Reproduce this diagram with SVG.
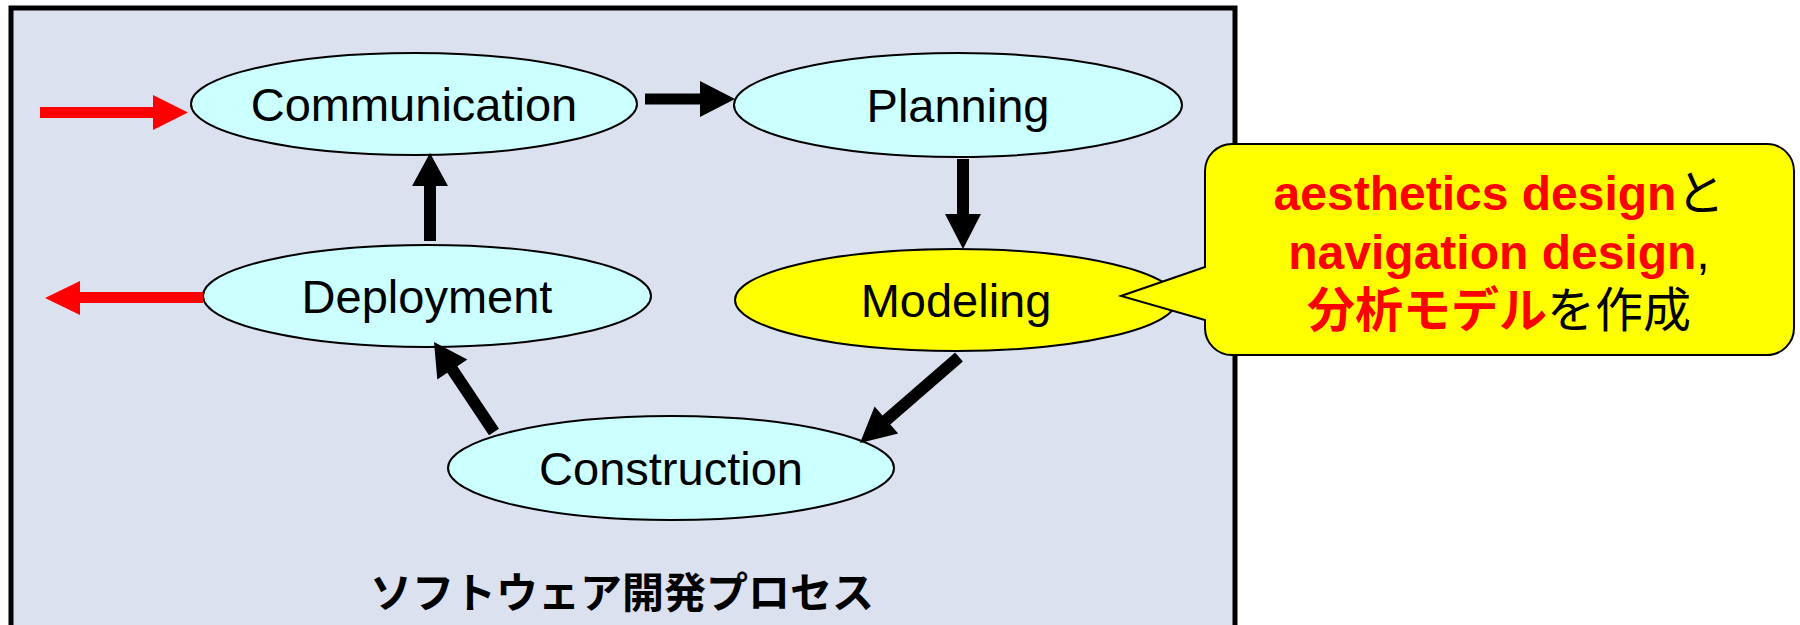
<svg xmlns="http://www.w3.org/2000/svg" width="1800" height="625" viewBox="0 0 1800 625">
<style>
.frame{fill:#dce1ef;stroke:#000;stroke-width:5}
.node{fill:#ccffff;stroke:#000;stroke-width:2}
.hl{fill:#ffff00}
.lbl{font-family:"Liberation Sans","Noto Sans CJK JP",sans-serif;font-size:47px;fill:#000;text-anchor:middle}
.arrow{fill:#000}
.red{fill:#ff0000}
.callout{fill:#ffff00;stroke:#000;stroke-width:2}
.ct{font-family:"Liberation Sans","Noto Sans CJK JP",sans-serif;font-size:48px;text-anchor:middle;fill:#000}
.r{fill:#ff0000;font-weight:bold}
.title{font-family:"Noto Sans CJK JP","Liberation Sans",sans-serif;font-size:42px;font-weight:bold;text-anchor:middle;fill:#000}
</style>
<rect class="frame" x="11" y="8" width="1224" height="650"/>
<text class="title" x="622" y="608">ソフトウェア開発プロセス</text>
<g id="communication"><ellipse class="node" cx="414" cy="104" rx="223" ry="51"/><text class="lbl" x="414" y="121">Communication</text></g>
<g id="planning"><ellipse class="node" cx="958" cy="105" rx="224" ry="52"/><text class="lbl" x="958" y="122">Planning</text></g>
<g id="modeling"><ellipse class="node hl" cx="956" cy="300" rx="221" ry="51"/><text class="lbl" x="956" y="317">Modeling</text></g>
<g id="deployment"><ellipse class="node" cx="427" cy="296" rx="224" ry="51"/><text class="lbl" x="427" y="313">Deployment</text></g>
<g id="construction"><ellipse class="node" cx="671" cy="468" rx="223" ry="52"/><text class="lbl" x="671" y="485">Construction</text></g>
<g id="connectors">
<polygon class="red" points="40,107 153,107 153,95 188,112.5 153,130 153,118 40,118"/>
<polygon class="red" points="203,292 80,292 80,281 45,298 80,315 80,303 203,303"/>
<polygon class="arrow" points="645,93.5 700,93.5 700,81 735,99 700,117 700,104.5 645,104.5"/>
<polygon class="arrow" points="957,159 969,159 969,214 981,214 963,249 945,214 957,214"/>
<polygon class="arrow" points="424,241 436,241 436,186 448,186 430,153 412,186 424,186"/>
<polygon class="arrow" points="955.1,352.5 882.5,415.5 874.6,406.4 860,443 898.2,433.6 890.3,424.5 962.9,361.5"/>
<polygon class="arrow" points="489,435.3 447.3,372.8 437.3,379.5 434,342 467.3,359.5 457.3,366.2 499,428.7"/>
</g>
<g id="callout">
<path class="callout" d="M1232,144 H1767 A27,27 0 0 1 1794,171 V328 A27,27 0 0 1 1767,355 H1232 A27,27 0 0 1 1205,328 V320 L1121,296 L1205,267 V171 A27,27 0 0 1 1232,144 Z"/>
<text class="ct" x="1499" y="210"><tspan class="r">aesthetics design</tspan>と</text>
<text class="ct" x="1499" y="269"><tspan class="r">navigation design</tspan>,</text>
<text class="ct" x="1499" y="327"><tspan class="r">分析モデル</tspan>を作成</text>
</g>
</svg>
